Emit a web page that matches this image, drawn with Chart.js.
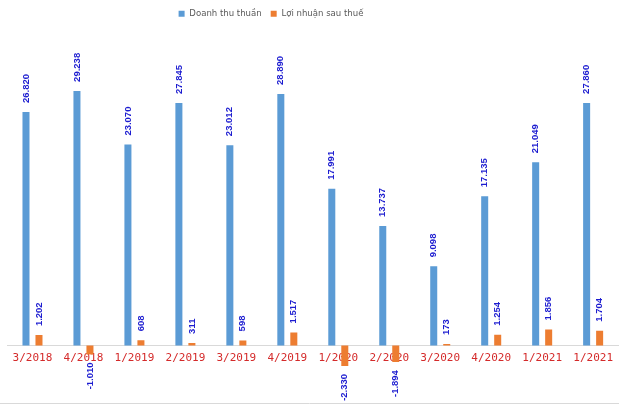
<!DOCTYPE html>
<html>
<head>
<meta charset="utf-8">
<script src="https://cdn.jsdelivr.net/npm/chart.js@4.4.0/dist/chart.umd.min.js"></script>
<style>
  html, body { margin: 0; padding: 0; background: #fff; }
  #wrap { width: 619px; height: 405px; position: relative; }
</style>
</head>
<body>
<div id="wrap"><canvas id="c"></canvas></div>
<script>
const categories = ['3/2018','4/2018','1/2019','2/2019','3/2019','4/2019','1/2020','2/2020','3/2020','4/2020','1/2021','1/2021'];
const revenue = [26820, 29238, 23070, 27845, 23012, 28890, 17991, 13737, 9098, 17135, 21049, 27860];
const profit = [1202, -1010, 608, 311, 598, 1517, -2330, -1894, 173, 1254, 1856, 1704];
const seriesNames = ['Doanh thu thuần', 'Lợi nhuận sau thuế'];

function fmt(v) {
  const s = Math.abs(v).toString().replace(/\B(?=(\d{3})+(?!\d))/g, '.');
  return (v < 0 ? '-' : '') + s;
}

const labelPlugin = {
  id: 'valueLabels',
  afterLayout(chart) {
    if (chart.legend) {
      chart.legend.left -= 42;
      chart.legend.right -= 42;
    }
  },
  afterDatasetsDraw(chart) {
    const ctx = chart.ctx;
    ctx.save();
    ctx.font = 'bold 9.5px "Liberation Sans", Arial, sans-serif';
    ctx.fillStyle = '#1c1cd0';
    ctx.textBaseline = 'middle';
    chart.data.datasets.forEach((ds, di) => {
      const meta = chart.getDatasetMeta(di);
      meta.data.forEach((el, i) => {
        const v = ds.data[i];
        ctx.save();
        if (v >= 0) {
          ctx.translate(el.x, el.y - 9);
          ctx.rotate(-Math.PI / 2);
          ctx.textAlign = 'left';
        } else {
          ctx.translate(el.x, el.y + 8);
          ctx.rotate(-Math.PI / 2);
          ctx.textAlign = 'right';
        }
        ctx.fillText(fmt(v), 0, 0);
        ctx.restore();
      });
    });
    ctx.restore();
  },
  afterDraw(chart) {
    const ctx = chart.ctx;
    ctx.save();
    ctx.strokeStyle = '#d9d9d9';
    ctx.lineWidth = 1;
    ctx.beginPath();
    ctx.moveTo(0, 403.5);
    ctx.lineTo(619, 403.5);
    ctx.stroke();
    ctx.restore();
  }
};

new Chart(document.getElementById('c'), {
  type: 'bar',
  data: {
    labels: categories,
    datasets: [
      { label: seriesNames[0], data: revenue, backgroundColor: '#5b9bd5', barPercentage: 0.54, categoryPercentage: 0.51 },
      { label: seriesNames[1], data: profit, backgroundColor: '#ed7d31', barPercentage: 0.54, categoryPercentage: 0.51 }
    ]
  },
  options: {
    responsive: true,
    maintainAspectRatio: false,
    animation: false,
    layout: { padding: { left: 7, right: 0, top: 0, bottom: 3 } },
    plugins: {
      legend: {
        position: 'top',
        labels: {
          boxWidth: 6, boxHeight: 6, padding: 9,
          color: '#595959',
          font: { family: '"DejaVu Sans Condensed", sans-serif', size: 9.5 }
        }
      },
      tooltip: { enabled: false }
    },
    scales: {
      x: {
        position: { y: 0 },
        grid: { display: false, drawTicks: false },
        border: { display: true, color: '#d9d9d9', width: 1 },
        ticks: {
          color: '#d42a2a', padding: 6,
          font: { family: '"DejaVu Sans Mono", monospace', size: 11 },
          maxRotation: 0, autoSkip: false
        }
      },
      y: {
        display: false,
        min: -6475,
        max: 36400
      }
    }
  },
  plugins: [labelPlugin]
});
</script>
</body>
</html>
